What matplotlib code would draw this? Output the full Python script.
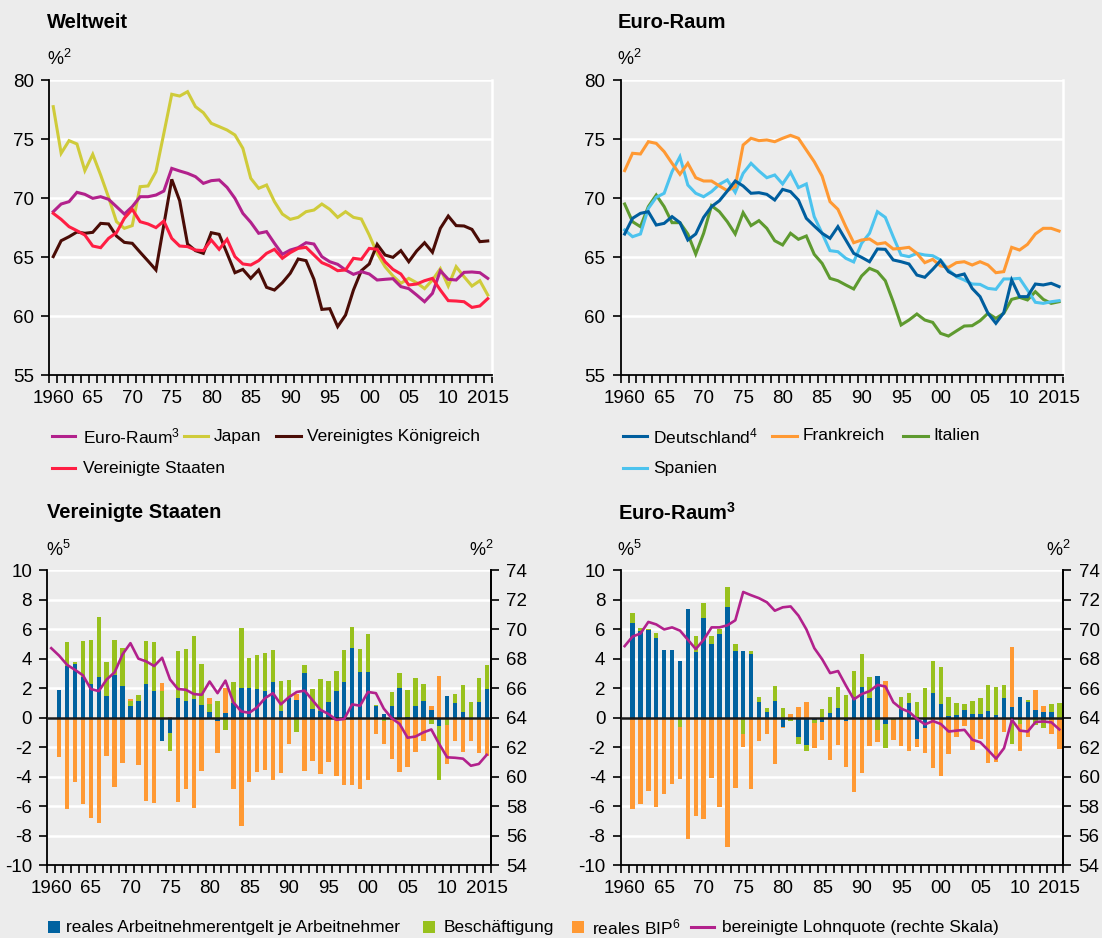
import numpy as np
import matplotlib
matplotlib.use("Agg")
import matplotlib.pyplot as plt
from matplotlib.lines import Line2D
from matplotlib.patches import Rectangle
from matplotlib.ticker import FixedLocator

plt.rcParams['font.family'] = ['Liberation Sans', 'DejaVu Sans']
plt.rcParams['mathtext.fontset'] = 'custom'
plt.rcParams['mathtext.rm'] = 'Liberation Sans'
plt.rcParams['mathtext.it'] = 'Liberation Sans:italic'
plt.rcParams['mathtext.bf'] = 'Liberation Sans:bold'
plt.rcParams['axes.unicode_minus'] = False

# ---------------- data ----------------
years = np.arange(1960, 2016)
bar_years = np.arange(1961, 2016)

# Weltweit (adjusted wage share, %)
euro_area = [68.84, 69.49, 69.69, 70.48, 70.31, 69.97, 70.11, 69.89, 69.27, 68.64,
             69.27, 70.11, 70.11, 70.25, 70.59, 72.51, 72.29, 72.09, 71.81, 71.24,
             71.47, 71.53, 70.90, 69.97, 68.70, 67.94, 67.01, 67.15, 66.16, 65.23,
             65.59, 65.79, 66.21, 66.10, 65.03, 64.60, 64.38, 63.90, 63.53, 63.76,
             63.56, 63.05, 63.11, 63.16, 62.49, 62.32, 61.78, 61.21, 61.92, 63.84,
             63.11, 63.05, 63.70, 63.73, 63.67, 63.19]
japan = [77.74, 73.79, 74.86, 74.58, 72.32, 73.70, 71.95, 70.06, 68.00, 67.43,
         67.66, 70.96, 71.02, 72.23, 75.48, 78.79, 78.64, 79.01, 77.74, 77.23,
         76.33, 76.05, 75.76, 75.34, 74.21, 71.67, 70.82, 71.10, 69.69, 68.64,
         68.19, 68.36, 68.84, 68.98, 69.49, 69.04, 68.36, 68.84, 68.36, 68.22,
         66.86, 65.31, 64.18, 63.39, 62.77, 63.19, 62.82, 62.32, 63.05, 64.01,
         62.54, 64.18, 63.33, 62.54, 62.99, 61.78]
uk = [65.03, 66.38, 66.72, 67.12, 67.01, 67.09, 67.85, 67.80, 66.78, 66.24,
      66.16, 65.40, 64.66, 63.90, 67.74, 71.58, 69.77, 66.10, 65.54, 65.31,
      67.06, 66.92, 65.31, 63.67, 63.95, 63.19, 63.90, 62.43, 62.20, 62.82,
      63.62, 64.83, 64.69, 63.11, 60.56, 60.62, 59.10, 60.08, 62.20, 63.84,
      64.41, 66.07, 65.17, 64.97, 65.54, 64.60, 65.51, 66.21, 65.40, 67.43,
      68.47, 67.66, 67.63, 67.34, 66.30, 66.36]
us = [68.70, 68.19, 67.57, 67.23, 66.86, 65.93, 65.79, 66.58, 67.06, 68.28,
      69.04, 67.99, 67.80, 67.49, 68.05, 66.58, 65.93, 65.88, 65.59, 65.54,
      66.44, 65.65, 66.50, 65.03, 64.41, 64.32, 64.69, 65.31, 65.65, 64.89,
      65.37, 65.73, 65.82, 65.17, 64.52, 64.24, 63.84, 63.90, 64.89, 64.80,
      65.73, 65.65, 64.60, 63.95, 63.56, 62.63, 62.71, 62.99, 63.19, 62.20,
      61.30, 61.27, 61.21, 60.73, 60.85, 61.47]

# Euro-Raum countries
germany = [66.95, 68.28, 68.70, 68.84, 67.71, 67.85, 68.42, 67.91, 66.44, 66.95,
           68.36, 69.27, 69.77, 70.59, 71.44, 71.02, 70.40, 70.45, 70.31, 69.83,
           70.73, 70.54, 69.83, 68.28, 67.63, 67.01, 66.58, 67.57, 66.44, 65.31,
           64.97, 64.60, 65.68, 65.65, 64.75, 64.60, 64.41, 63.47, 63.28, 63.95,
           64.69, 63.76, 63.39, 63.56, 62.34, 61.64, 60.23, 59.38, 60.28, 63.05,
           61.64, 61.64, 62.71, 62.63, 62.77, 62.49]
france = [72.32, 73.79, 73.73, 74.77, 74.63, 73.93, 72.94, 72.01, 72.94, 71.72,
          71.44, 71.44, 71.02, 70.62, 70.96, 74.49, 75.06, 74.86, 74.92, 74.77,
          75.06, 75.31, 75.06, 74.07, 73.08, 71.86, 69.69, 69.04, 67.57, 66.21,
          66.44, 66.53, 66.10, 66.21, 65.68, 65.73, 65.82, 65.31, 64.52, 64.80,
          64.24, 64.12, 64.52, 64.60, 64.32, 64.60, 64.32, 63.67, 63.76, 65.82,
          65.59, 66.07, 66.95, 67.43, 67.43, 67.20]
italy = [69.49, 67.99, 67.57, 69.27, 70.25, 69.27, 67.91, 67.91, 66.95, 65.25,
         67.01, 69.35, 68.84, 67.99, 66.95, 68.76, 67.66, 68.08, 67.43, 66.38,
         66.02, 67.01, 66.50, 66.78, 65.23, 64.46, 63.19, 62.99, 62.63, 62.29,
         63.39, 64.04, 63.76, 62.99, 61.21, 59.24, 59.66, 60.17, 59.66, 59.46,
         58.53, 58.30, 58.73, 59.15, 59.18, 59.60, 60.23, 59.80, 60.23, 61.41,
         61.58, 61.36, 62.06, 61.41, 61.07, 61.21]
spain = [67.29, 66.72, 66.95, 69.12, 70.06, 70.40, 72.23, 73.50, 71.10, 70.40,
         70.11, 70.54, 71.16, 71.53, 70.48, 72.09, 72.94, 72.29, 71.72, 71.95,
         71.19, 72.18, 70.88, 71.19, 68.42, 67.01, 65.54, 65.45, 64.89, 64.58,
         66.16, 67.01, 68.84, 68.36, 66.72, 65.17, 65.03, 65.31, 65.17, 65.11,
         64.75, 63.90, 63.33, 63.05, 62.71, 62.68, 62.34, 62.26, 63.14, 63.14,
         63.19, 62.20, 61.16, 61.07, 61.21, 61.30]

# Decomposition, Vereinigte Staaten (1961-2015, percentage points)
us_comp = [1.86, 3.49, 3.63, 2.77, 2.27, 2.77, 1.46, 2.88, 2.14, 0.78,
           1.12, 2.27, 1.80, -1.59, -1.07, 1.34, 1.12, 1.25, 0.85, 0.37,
           -0.21, 0.28, 1.01, 2.02, 2.02, 1.93, 1.80, 2.41, 0.44, 1.34,
           1.19, 3.04, 0.58, 0.44, 1.05, 1.80, 2.41, 4.71, 3.08, 3.08,
           0.78, 0.27, 0.81, 1.97, 0.05, 0.75, 1.15, 0.54, -0.59, 1.49,
           0.95, 0.34, -0.05, 1.02, 1.90]
us_empl = [0.00, 1.65, 0.14, 2.42, 2.98, 4.05, 2.31, 2.37, 2.55, 0.34,
           0.41, 2.92, 3.32, 1.80, -1.18, 3.19, 3.53, 4.27, 2.78, 0.54,
           1.12, -0.85, 1.40, 4.02, 2.01, 2.31, 2.58, 2.17, 2.03, 1.20,
           -0.98, 0.52, 1.36, 2.17, 1.42, 1.36, 2.17, 1.40, 1.56, 2.58,
           0.07, -0.25, 0.95, 1.08, 1.83, 1.90, 1.15, -0.47, -3.62, -0.54,
           0.61, 1.83, 1.02, 1.63, 1.69]
us_gdp = [-2.66, -6.23, -4.35, -5.89, -6.80, -7.18, -2.59, -4.69, -3.06, 0.14,
          -3.22, -5.64, -5.77, 0.56, 0.05, -5.71, -4.87, -6.11, -3.60, 0.43,
          -2.21, 1.74, -4.82, -7.34, -4.35, -3.67, -3.56, -4.24, -3.74, -1.82,
          0.41, -3.60, -2.95, -3.81, -2.99, -3.94, -4.55, -4.55, -4.87, -4.21,
          -1.14, -1.58, -2.78, -3.71, -3.37, -2.35, -1.60, 0.27, 2.78, -2.58,
          -1.60, -2.35, -1.56, -2.44, -2.62]

# Decomposition, Euro-Raum (1961-2015, percentage points)
ea_comp = [6.43, 5.89, 5.93, 5.41, 4.58, 4.58, 3.83, 7.36, 4.46, 6.77,
           4.98, 5.66, 7.49, 4.51, 4.51, 4.31, 1.05, 0.37, 1.12, -0.62,
           0.00, -1.30, -1.86, -0.15, -0.28, 0.31, 0.64, -0.21, 1.41, 2.07,
           1.32, 2.81, -0.44, -0.10, 0.58, 0.98, -1.46, -0.69, 1.66, 0.92,
           0.10, 0.17, 0.51, 0.24, 0.24, 0.44, 0.17, 1.32, 0.71, 1.39,
           1.05, 0.51, 0.37, 0.37, 0.00]
ea_empl = [0.68, 0.18, 0.05, 0.32, 0.00, -0.12, -0.62, 0.00, 1.06, 1.02,
           0.54, 0.32, 1.36, 0.47, -1.10, 0.20, 0.34, 0.27, 1.02, 0.64,
           -0.21, -0.50, -0.38, -0.20, 0.58, 1.08, 1.42, 1.53, 1.74, 2.24,
           1.42, -0.85, -1.60, -0.10, 0.84, 0.68, 1.05, 2.00, 2.17, 2.51,
           1.29, 0.81, 0.41, 0.88, 1.08, 1.76, 1.90, 0.88, -1.77, -0.47,
           0.14, -0.49, -0.69, 0.54, 0.98]
ea_gdp = [-6.23, -5.84, -4.96, -6.05, -5.16, -4.41, -3.56, -8.26, -6.66, -6.90,
          -4.08, -6.05, -8.80, -4.76, -0.88, -4.82, -1.57, -1.14, -3.13, -0.07,
          0.24, 0.73, 1.05, -1.75, -1.25, -2.88, -1.86, -3.12, -5.03, -3.74,
          -1.91, -0.79, 2.48, -1.35, -1.91, -2.25, -0.52, -1.70, -3.40, -3.94,
          -2.45, -1.30, -0.55, -2.18, -1.46, -3.06, -2.99, -0.96, 4.07, -1.79,
          -1.30, 1.36, 0.41, -1.10, -2.11]

xtick_years = [1960, 1965, 1970, 1975, 1980, 1985, 1990, 1995, 2000, 2005, 2010, 2015]
xtick_labels = ['1960', '65', '70', '75', '80', '85', '90', '95', '00', '05', '10', '2015']

# ---------------- styling ----------------
BG = '#ECECEC'
C_EURO = '#B2218C'
C_JAPAN = '#CFCB3A'
C_UK = '#4A0C06'
C_US = '#FF1E43'
C_DE = '#005E9E'
C_FR = '#FF9933'
C_IT = '#5E9A2F'
C_ES = '#4CC3EE'
C_BLUE = '#0062A0'
C_GREEN = '#98C11D'
C_ORANGE = '#FF9933'
FS = 12.5
TFS = 13.5

W, H = 1102, 938
fig = plt.figure(figsize=(W / 100, H / 100), dpi=100, facecolor=BG)


def px_rect(left, right, top, bottom):
    return [left / W, 1 - bottom / H, (right - left) / W, (bottom - top) / H]


def style_xaxis(ax):
    ax.set_xlim(1959.5, 2015.5)
    ax.xaxis.set_major_locator(FixedLocator(xtick_years))
    ax.set_xticklabels(xtick_labels)
    ax.xaxis.set_minor_locator(FixedLocator(np.arange(1959.5, 2016, 1.0)))
    ax.tick_params(axis='x', which='major', length=0, pad=11, labelsize=TFS)
    ax.tick_params(axis='x', which='minor', length=5.5, width=1.2, color='black', direction='out')


def line_panel(rect, series):
    ax = fig.add_axes(rect, facecolor=BG)
    ax.set_ylim(55, 80)
    ax.set_yticks([55, 60, 65, 70, 75, 80])
    ax.grid(axis='y', color='white', linewidth=1.8)
    ax.set_axisbelow(True)
    ax.spines['top'].set_visible(False)
    ax.spines['right'].set_color('white')
    ax.spines['right'].set_linewidth(1.8)
    ax.spines['left'].set_linewidth(1.3)
    ax.spines['bottom'].set_linewidth(1.3)
    ax.tick_params(axis='y', length=6, width=1.2, pad=5, labelsize=TFS)
    style_xaxis(ax)
    for vals, col in series:
        ax.plot(years, vals, color=col, lw=2.2, solid_joinstyle='miter', zorder=3)
    return ax


def bar_panel(rect, comp, empl, gdp, share):
    ax = fig.add_axes(rect, facecolor=BG)
    ax.set_ylim(-10, 10)
    ax.set_yticks(np.arange(-10, 11, 2))
    ax.grid(axis='y', color='white', linewidth=1.8)
    ax.set_axisbelow(True)
    ax.spines['top'].set_visible(False)
    for s in ['left', 'right', 'bottom']:
        ax.spines[s].set_linewidth(1.3)
    ax.tick_params(axis='y', length=6, width=1.2, pad=5, labelsize=TFS)
    style_xaxis(ax)
    pos = np.zeros(len(bar_years))
    neg = np.zeros(len(bar_years))
    for vals, col in [(comp, C_BLUE), (empl, C_GREEN), (gdp, C_ORANGE)]:
        v = np.asarray(vals, dtype=float)
        bottom = np.where(v >= 0, pos, neg)
        ax.bar(bar_years, v, bottom=bottom, width=0.56, color=col, linewidth=0, zorder=2)
        pos += np.clip(v, 0, None)
        neg += np.clip(v, None, 0)
    ax.axhline(0, color='#1a1a1a', lw=1.8, zorder=3)
    ax2 = ax.twinx()
    ax2.set_ylim(54, 74)
    ax2.set_yticks(np.arange(54, 75, 2))
    for s in ['top', 'left', 'bottom']:
        ax2.spines[s].set_visible(False)
    ax2.spines['right'].set_linewidth(1.3)
    ax2.tick_params(axis='y', length=6, width=1.2, pad=5, labelsize=TFS)
    ax2.plot(years, share, color=C_EURO, lw=1.9, zorder=4)
    ax2.set_xlim(1959.5, 2015.5)
    return ax, ax2


ax_tl = line_panel(px_rect(49.3, 491.7, 80, 375),
                   [(japan, C_JAPAN), (uk, C_UK), (euro_area, C_EURO), (us, C_US)])
ax_tr = line_panel(px_rect(620.7, 1063, 80, 375),
                   [(italy, C_IT), (spain, C_ES), (france, C_FR), (germany, C_DE)])
bar_panel(px_rect(47.3, 490.7, 570, 865), us_comp, us_empl, us_gdp, us)
bar_panel(px_rect(620.7, 1063.3, 570, 865), ea_comp, ea_empl, ea_gdp, euro_area)


# ---------------- texts ----------------
def ftext(x, y, s, **kw):
    kw.setdefault('fontsize', FS)
    kw.setdefault('va', 'center')
    fig.text(x / W, 1 - y / H, s, **kw)


ftext(47, 23, 'Weltweit', fontsize=14.5, fontweight='bold')
ftext(618, 23, 'Euro-Raum', fontsize=14.5, fontweight='bold')
ftext(47, 513, 'Vereinigte Staaten', fontsize=14.5, fontweight='bold')
ftext(618, 513, r'Euro-Raum$^{\mathbf{3}}$', fontsize=14.5, fontweight='bold')

ftext(47, 59, r'%$^{2}$', fontsize=13)
ftext(617, 59, r'%$^{2}$', fontsize=13)
ftext(46, 550, r'%$^{5}$', fontsize=13)
ftext(617, 550, r'%$^{5}$', fontsize=13)
ftext(494, 550, r'%$^{2}$', ha='right', fontsize=13)
ftext(1071, 550, r'%$^{2}$', ha='right', fontsize=13)


def leg_line(x0, x1, y, col, label, tx):
    fig.add_artist(Line2D([x0 / W, x1 / W], [1 - y / H, 1 - y / H], color=col, lw=2.2,
                          transform=fig.transFigure))
    ftext(tx, y, label)


leg_line(52, 75, 436, C_EURO, r'Euro-Raum$^{3}$', 83)
leg_line(184, 208, 436, C_JAPAN, 'Japan', 214)
leg_line(276, 301, 436, C_UK, 'Vereinigtes Königreich', 307)
leg_line(52, 75, 468, C_US, 'Vereinigte Staaten', 83)

leg_line(623, 647, 436, C_DE, r'Deutschland$^{4}$', 653)
leg_line(772, 797, 436, C_FR, 'Frankreich', 803)
leg_line(903, 928, 436, C_IT, 'Italien', 933)
leg_line(623, 647, 468, C_ES, 'Spanien', 653)


def leg_box(x0, y, col, label, tx):
    fig.add_artist(Rectangle((x0 / W, 1 - (y + 6) / H), 12 / W, 12 / H, color=col,
                             transform=fig.transFigure, lw=0))
    ftext(tx, y, label)


leg_box(48, 927, C_BLUE, 'reales Arbeitnehmerentgelt je Arbeitnehmer', 66)
leg_box(423, 927, C_GREEN, 'Beschäftigung', 444)
leg_box(572, 927, C_ORANGE, r'reales BIP$^{6}$', 592)
leg_line(691, 714, 927, C_EURO, 'bereinigte Lohnquote (rechte Skala)', 722)

fig.savefig('out.png', dpi=100, facecolor=BG)
